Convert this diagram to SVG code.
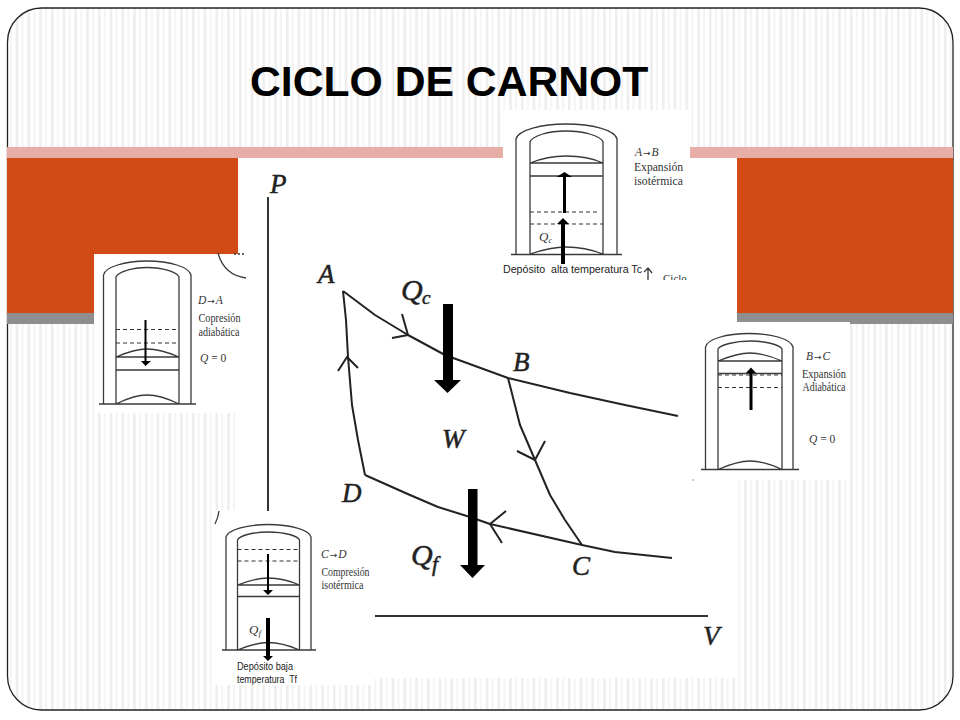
<svg xmlns="http://www.w3.org/2000/svg" width="960" height="720" viewBox="0 0 960 720">
<style>
.ln{fill:none;stroke:#3a3a3a;stroke-width:1.3}
.ds{fill:none;stroke:#333;stroke-width:1.2;stroke-dasharray:4 3}
.cv{fill:none;stroke:#222;stroke-width:2;stroke-linejoin:round}
.ax{fill:none;stroke:#333;stroke-width:2}
.ar{fill:#000;stroke:none}
.sf{font-family:"Liberation Serif",serif;font-size:12.5px;fill:#333}
.si{font-family:"Liberation Serif",serif;font-size:11.5px;font-style:italic;fill:#333}
.ss{font-family:"Liberation Sans",Arial,sans-serif;font-size:10.6px;fill:#222;white-space:pre}
.big{font-family:"Liberation Serif",serif;font-style:italic;font-size:27px;fill:#222;stroke:#222;stroke-width:.5}
.arw{font-style:normal;font-family:"DejaVu Sans",sans-serif;font-size:9px}
</style>
<defs>
<pattern id="st" width="11.75" height="12" patternUnits="userSpaceOnUse">
<rect width="11.75" height="12" fill="#fff"/>
<rect x="4" width="2.500" height="12" fill="#ededed"/>
<rect x="10" width="2" height="12" fill="#f3f3f3"/>
</pattern>
<clipPath id="c1"><rect x="503" y="110" width="187" height="170"/></clipPath>
</defs>
<rect width="960" height="720" fill="#fff"/>
<g id="frame">
<rect x="7.5" y="8" width="945.5" height="702" rx="34" fill="url(#st)" stroke="#222" stroke-width="1.3"/>
<rect x="7" y="147" width="946" height="11" fill="#e6aea6"/>
<rect x="7" y="158" width="946" height="155" fill="#d24b17"/>
<rect x="7" y="313" width="946" height="11" fill="#8e8e8e"/>
</g>
<text id="title" x="250" y="96" font-family="'Liberation Sans',Arial,sans-serif" font-size="42.700px" font-weight="700" fill="#000">CICLO DE CARNOT</text>
<g id="backdrops" fill="#fff">
<rect x="238" y="158" width="499" height="520"/>
<rect x="503" y="110" width="187" height="170"/>
<rect x="94" y="254" width="152" height="159"/>
<rect x="215" y="510" width="160" height="175"/>
<rect x="690" y="322" width="160" height="158"/>
</g>
<g id="pv-diagram">
<path class="ln" d="M218 253Q224 275 246 278"/>
<path class="ln" stroke-dasharray="2 2" d="M234 254H246"/>
<path class="ax" d="M268 197V511M375 616H708"/>
<path class="ln" d="M219 511Q218 518 215 524"/>
<circle cx="693" cy="480" r=".7" fill="#666"/>
<text class="big" x="270" y="193">P</text>
<text class="big" x="703" y="645">V</text>
<g id="cycle" class="cv">
<path d="M343 291L375 315L408 335L445 355L508 378L570 393L625 405L678 416"/>
<path d="M508 378L520 425L535 460L550 495L565 520L582 545"/>
<path d="M365 475L410 495L438 507L470 517L490 524L582 545L615 552L672 558"/>
<path d="M343 291L346 320L348 357L352 405L358 440L365 475"/>
<path d="M402 314L408 335L392 338M338 371L347 357L358 368M517 451L535 460L545 441M506 511L490 524L502 543"/>
</g>
<path class="ar" d="M443 304H453V380H461L447.500 393L434 380H443Z"/>
<path class="ar" d="M468 489H477.500V565H485L472.500 578L460 565H468Z"/>
<text class="big" x="318" y="283">A</text>
<text class="big" x="401" y="300" style="font-size:30px">Q</text>
<text class="big" x="422" y="304" style="font-size:19px">c</text>
<text class="big" x="513" y="371">B</text>
<text class="big" x="442" y="448">W</text>
<text class="big" x="342" y="502">D</text>
<text class="big" x="411" y="565" style="font-size:30px">Q</text>
<text class="big" x="432" y="571" style="font-size:22px">f</text>
<text class="big" x="572" y="575">C</text>
</g>
<g id="piston-ab">
<path class="ln" d="M511 254.500H622M516 254.500V139C518 130 542 124 566 124C592 124 615 130 617 139V254.500M530 254.500V142C532 136 548 131 566 131C584 131 601 136 603 142V254.500M530 163C545 157 555 156 566 156C578 156 590 157 603 163M530 163H603M530 176H603M530 254C545 249 555 247 566 247C578 247 590 249 603 254"/>
<path class="ds" d="M530 212H600M530 224H603"/>
<path class="ar" d="M563 176H566V213H563ZM556.500 177L564.500 172L572 177ZM561 264V224H557L563 218L569 224H565V264Z"/>
<text class="si" x="539" y="241" style="font-size:13px">Q<tspan style="font-size:8px" dy="2">c</tspan></text>
<text class="si" x="635" y="156">A<tspan class="arw" dx="1">→</tspan><tspan dx="1">B</tspan></text>
<text class="sf" x="634" y="171" textLength="49" lengthAdjust="spacingAndGlyphs">Expansión</text>
<text class="sf" x="634" y="185" textLength="49" lengthAdjust="spacingAndGlyphs">isotérmica</text>
<text class="ss" x="503" y="273" textLength="139" lengthAdjust="spacingAndGlyphs">Depósito  alta temperatura Tc</text>
<g clip-path="url(#c1)">
<path class="ln" d="M644 272L648 268L652 273M648 268V280"/>
<text class="sf" x="663" y="282" style="font-size:11px">Ciclo</text>
</g>
</g>
<g id="piston-da">
<path class="ln" d="M99 404H196M103.500 404V275C105 267 125 261 147 261C170 261 189 267 191 275V404M116 404V277C118 272 132 267.500 147 267.500C163 267.500 177 272 179 277V404M116 357C130 351 140 349 147 349C155 349 165 351 179 357M116 357H179M116 370H179M116 404C130 397 140 395 147 395C155 395 165 397 179 404"/>
<path class="ds" d="M116 329.500H179M116 343H179"/>
<path class="ar" d="M144.500 320H146.500V361H151L145.500 366L141 361H144.500Z"/>
<text class="si" x="198" y="304">D<tspan class="arw" dx="1">→</tspan><tspan dx="1">A</tspan></text>
<text class="sf" x="198.500" y="322" textLength="42" lengthAdjust="spacingAndGlyphs">Copresión</text>
<text class="sf" x="198.500" y="336" textLength="41" lengthAdjust="spacingAndGlyphs">adiabática</text>
<text class="si" x="200" y="362">Q<tspan style="font-style:normal"> = 0</tspan></text>
</g>
<g id="piston-cd">
<path class="ln" d="M222 650H316M226 650V537C228 530 246 524.500 268 524.500C291 524.500 309 530 311 537V650M237.500 650V540C239 536 252 532 268 532C285 532 298 536 299.500 540V650M237.500 585C250 580 260 578 268 578C277 578 288 580 299.500 585M237.500 585H299.500M237.500 596.500H299.500M237.500 650C250 645 260 642.500 268 642.500C277 642.500 288 645 299.500 650"/>
<path class="ds" d="M237.500 549.500H299.500M237.500 561H299.500"/>
<path class="ar" d="M267 554H269V590H273L268 595L263 590H267ZM266 618H270V656H273L268 661L263 656H266Z"/>
<text class="si" x="249" y="634" style="font-size:13px">Q<tspan style="font-size:9px" dy="2">f</tspan></text>
<text class="si" x="321" y="558">C<tspan class="arw" dx="1">→</tspan><tspan dx="1">D</tspan></text>
<text class="sf" x="321.500" y="576" textLength="48" lengthAdjust="spacingAndGlyphs">Compresión</text>
<text class="sf" x="321.500" y="589" textLength="42" lengthAdjust="spacingAndGlyphs">isotérmica</text>
<text class="ss" x="237" y="670" textLength="56" lengthAdjust="spacingAndGlyphs">Depósito baja</text>
<text class="ss" x="237" y="683" textLength="60" lengthAdjust="spacingAndGlyphs">temperatura  Tf</text>
</g>
<g id="piston-bc">
<path class="ln" d="M701 469.500H799M705.500 469.500V347C707 339 727 333.500 749 333.500C772 333.500 791 339 793 347V469.500M718 469.500V349C720 345 735 341 750 341C766 341 780 345 782 349V469.500M718 361C733 355 743 353 750 353C758 353 768 355 782 361M718 361H782M718 373.500H782M718 469.500C733 463 743 461 750 461C758 461 768 463 782 469.500"/>
<path class="ds" d="M718 375H782M718 387.500H782"/>
<path class="ar" d="M749.500 410V373H746L751 367.500L756 373H752.500V410Z"/>
<text class="si" x="806" y="360">B<tspan class="arw" dx="1">→</tspan><tspan dx="1">C</tspan></text>
<text class="sf" x="802" y="378" textLength="44" lengthAdjust="spacingAndGlyphs">Expansión</text>
<text class="sf" x="802.500" y="391" textLength="43" lengthAdjust="spacingAndGlyphs">Adiabática</text>
<text class="si" x="809" y="443">Q<tspan style="font-style:normal"> = 0</tspan></text>
</g>
</svg>
